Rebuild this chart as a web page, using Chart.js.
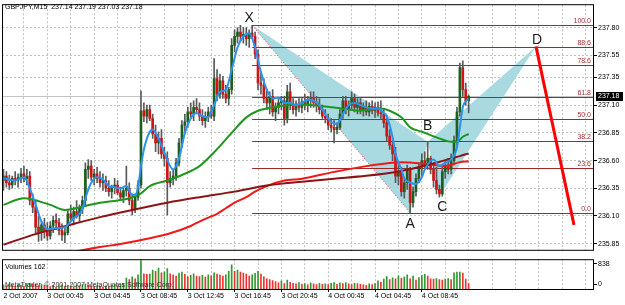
<!DOCTYPE html>
<html>
<head>
<meta charset="utf-8">
<script src="https://cdn.jsdelivr.net/npm/chart.js@4.4.0/dist/chart.umd.min.js"></script>
<style>
  html, body { margin: 0; padding: 0; background: #fff; }
  #wrap { position: relative; width: 625px; height: 305px; overflow: hidden; background: #fff; }
  canvas { position: absolute; left: 0; }
  #priceChart { top: 0; }
  #volChart { top: 254px; }
</style>
</head>
<body>
<div id="wrap">
  <canvas id="priceChart" width="625" height="256"></canvas>
  <canvas id="volChart" width="625" height="51"></canvas>
</div>
<script>
// GBPJPY M15 bars
const opens = [236.42,236.46,236.40,236.38,236.44,236.42,236.45,236.48,236.44,236.46,
  236.24,236.18,236.00,235.95,236.02,235.96,235.92,236.01,236.06,236.04,
  235.97,235.93,235.95,236.12,236.08,236.14,236.10,236.17,236.24,236.52,
  236.55,236.45,236.48,236.44,236.40,236.42,236.35,236.32,236.36,236.38,
  236.31,236.27,236.33,236.35,236.24,236.16,236.27,236.38,237.05,237.00,
  237.06,236.98,236.84,236.76,236.80,236.66,236.62,236.40,236.44,236.46,
  236.58,236.76,236.92,236.95,237.04,237.02,237.08,237.06,237.00,236.96,
  237.00,237.04,237.00,237.34,237.20,237.32,237.20,237.16,237.24,237.64,
  237.72,237.76,237.72,237.74,237.70,237.75,237.72,237.56,237.30,237.28,
  237.16,237.12,237.18,237.04,237.08,237.12,237.14,236.98,237.22,237.10,
  237.06,237.10,237.08,237.13,237.10,237.14,237.16,237.12,237.10,237.06,
  237.00,236.98,236.92,236.90,236.88,236.90,237.02,237.14,237.06,237.10,
  237.16,237.08,237.12,237.06,237.08,237.04,237.09,237.05,237.08,237.03,
  237.02,236.94,236.82,236.74,236.66,236.46,236.50,236.32,236.40,236.52,
  236.22,236.32,236.44,236.54,236.60,236.56,236.62,236.52,236.42,236.34,
  236.30,236.50,236.56,236.52,236.60,236.78,237.04,237.44,237.24,237.14];
const highs = [236.52,236.50,236.47,236.46,236.50,236.48,236.53,236.55,236.52,236.50,
  236.30,236.24,236.10,236.05,236.08,236.04,236.05,236.10,236.12,236.08,
  236.03,236.00,236.16,236.20,236.18,236.24,236.20,236.28,236.58,236.61,
  236.60,236.52,236.54,236.50,236.48,236.46,236.42,236.38,236.44,236.42,
  236.36,236.35,236.55,236.40,236.30,236.30,236.42,237.23,237.12,237.10,
  237.10,237.02,236.92,236.86,236.88,236.72,236.68,236.50,236.52,236.62,
  236.80,236.96,237.02,237.08,237.12,237.14,237.16,237.12,237.06,237.04,
  237.08,237.10,237.52,237.42,237.38,237.36,237.28,237.26,237.70,237.78,
  237.80,237.82,237.80,237.80,237.78,237.82,237.76,237.60,237.40,237.34,
  237.24,237.22,237.24,237.12,237.16,237.18,237.18,237.28,237.30,237.16,
  237.14,237.16,237.16,237.20,237.18,237.22,237.22,237.18,237.16,237.10,
  237.06,237.02,236.98,236.96,236.94,237.06,237.18,237.18,237.14,237.22,
  237.20,237.16,237.16,237.12,237.14,237.12,237.14,237.12,237.13,237.14,
  237.06,236.98,236.88,236.80,236.72,236.58,236.54,236.44,236.56,236.54,
  236.36,236.48,236.58,236.66,236.68,236.77,236.64,236.58,236.54,236.38,
  236.54,236.60,236.62,236.66,236.82,237.08,237.48,237.50,237.30,237.19];
const lows = [236.33,236.36,236.34,236.35,236.38,236.36,236.40,236.41,236.38,236.20,
  236.13,235.95,235.87,235.88,235.90,235.88,235.89,235.95,235.98,235.93,
  235.88,235.86,235.93,236.05,236.02,236.08,236.05,236.12,236.20,236.44,
  236.42,236.38,236.40,236.36,236.33,236.32,236.28,236.26,236.30,236.29,
  236.24,236.22,236.28,236.20,236.11,236.13,236.24,236.35,236.95,236.94,
  236.96,236.80,236.68,236.66,236.62,236.55,236.11,236.36,236.38,236.42,
  236.55,236.72,236.86,236.90,236.98,236.96,237.02,236.96,236.92,236.90,
  236.95,236.98,236.96,237.14,237.16,237.16,237.12,237.10,237.20,237.58,
  237.66,237.68,237.66,237.64,237.62,237.70,237.52,237.24,237.20,237.12,
  237.06,237.02,237.00,236.96,237.02,237.06,236.92,236.94,237.06,237.02,
  237.00,237.04,237.03,237.06,237.04,237.08,237.08,237.04,237.02,236.98,
  236.94,236.88,236.86,236.76,236.84,236.88,236.98,237.02,237.00,237.06,
  237.04,237.02,237.02,237.00,237.01,237.00,237.02,236.99,237.00,236.98,
  236.90,236.78,236.70,236.60,236.40,236.38,236.28,236.26,236.34,236.13,
  236.18,236.28,236.40,236.46,236.52,236.52,236.48,236.36,236.30,236.27,
  236.28,236.44,236.48,236.48,236.56,236.74,237.00,237.18,237.10,237.03];
const closes = [236.46,236.40,236.38,236.44,236.42,236.45,236.48,236.44,236.46,236.24,
  236.18,236.00,235.95,236.02,235.96,235.92,236.01,236.06,236.04,235.97,
  235.93,235.95,236.12,236.08,236.14,236.10,236.17,236.24,236.52,236.55,
  236.45,236.48,236.44,236.40,236.42,236.35,236.32,236.36,236.38,236.31,
  236.27,236.33,236.35,236.24,236.16,236.27,236.38,237.05,237.00,237.06,
  236.98,236.84,236.76,236.80,236.66,236.62,236.40,236.44,236.46,236.58,
  236.76,236.92,236.95,237.04,237.02,237.08,237.06,237.00,236.96,237.00,
  237.04,237.00,237.34,237.20,237.32,237.20,237.16,237.24,237.64,237.72,
  237.76,237.72,237.74,237.70,237.75,237.72,237.56,237.30,237.28,237.16,
  237.12,237.18,237.04,237.08,237.12,237.14,236.98,237.22,237.10,237.06,
  237.10,237.08,237.13,237.10,237.14,237.16,237.12,237.10,237.06,237.00,
  236.98,236.92,236.90,236.88,236.90,237.02,237.14,237.06,237.10,237.16,
  237.08,237.12,237.06,237.08,237.04,237.09,237.05,237.08,237.03,237.02,
  236.94,236.82,236.74,236.66,236.46,236.50,236.32,236.40,236.52,236.22,
  236.32,236.44,236.54,236.60,236.56,236.62,236.52,236.42,236.34,236.30,
  236.50,236.56,236.52,236.60,236.78,237.04,237.44,237.24,237.14,237.18];
const volumes = [120,95,140,110,90,130,105,85,150,170,
  140,120,100,135,110,90,75,110,60,85,
  120,70,95,80,65,105,90,130,150,110,
  85,70,100,80,60,95,75,110,140,90,
  120,160,320,280,360,300,420,838,450,430,
  440,560,520,620,480,510,600,450,420,380,
  470,500,430,360,400,450,380,370,400,350,
  420,390,480,440,410,380,420,520,715,520,
  560,500,470,440,380,420,460,520,440,360,
  300,280,250,220,180,240,160,260,200,170,
  150,190,140,160,120,180,150,130,170,140,
  150,130,170,190,140,180,160,190,150,130,
  170,160,140,120,110,150,130,160,240,200,
  290,370,280,330,300,390,320,360,420,300,
  380,260,340,400,430,380,300,290,310,280,
  260,290,310,280,480,500,500,470,290,162];

// moving averages: [bar, price] points
const blueMA = [[0,236.44],[4,236.42],[7,236.45],[9,236.35],[11,236.20],[13,236.05],[15,235.98],[18,235.99],
  [21,236.00],[24,236.08],[27,236.16],[28,236.26],[30,236.40],[32,236.45],[34,236.43],[36,236.37],[38,236.36],
  [40,236.35],[42,236.37],[44,236.29],[45,236.29],[46,236.36],[47,236.55],[48,236.70],[50,236.86],[51,236.88],
  [53,236.80],[55,236.67],[58,236.52],[60,236.62],[62,236.85],[64,236.98],[66,237.03],[68,237.00],[70,236.99],
  [72,237.10],[74,237.22],[76,237.24],[78,237.42],[80,237.62],[82,237.72],[84,237.75],[86,237.62],[88,237.40],
  [90,237.24],[92,237.16],[94,237.17],[96,237.12],[98,237.12],[100,237.10],[102,237.12],[104,237.15],[106,237.14],
  [108,237.10],[110,237.02],[112,236.95],[114,236.93],[116,237.02],[118,237.10],[120,237.12],[122,237.10],
  [124,237.08],[126,237.07],[128,237.07],[130,237.03],[131,237.00],[133,236.81],[134,236.66],[136,236.52],
  [137,236.44],[139,236.40],[141,236.39],[143,236.45],[144,236.52],[147,236.61],[149,236.55],[151,236.58],
  [153,236.61],[155,236.72],[156,236.90],[157,237.08],[159,237.16]];
const greenMA = [[0,236.20],[7,236.26],[16,236.20],[21,236.155],[28,236.19],[33,236.22],[39,236.24],[43,236.26],
  [47,236.305],[50,236.37],[56,236.42],[61,236.47],[67,236.55],[72,236.675],[78,236.85],[83,236.99],[87,237.05],
  [92,237.08],[101,237.105],[113,237.08],[122,237.05],[129,237.07],[132,237.05],[136,236.99],[139,236.90],
  [143,236.86],[146,236.83],[150,236.79],[153,236.77],[155,236.77],[157,236.815],[159,236.84]];
const maroonMA = [[0,235.84],[10,235.93],[22,236.015],[33,236.09],[44,236.155],[56,236.22],[67,236.27],[79,236.32],
  [90,236.375],[102,236.41],[113,236.437],[124,236.463],[136,236.507],[145,236.56],[151,236.604],[156,236.64],[159,236.665]];
const redMA = [[0,235.645],[26,235.787],[33,235.82],[40,235.848],[50,235.90],[57,235.944],[64,236.01],[67,236.05],
  [70,236.085],[73,236.12],[76,236.17],[79,236.22],[83,236.27],[86,236.32],[90,236.37],[96,236.42],[102,236.437],
  [113,236.498],[124,236.55],[136,236.586],[145,236.568],[151,236.551],[156,236.586],[159,236.595]];

// harmonic pattern points and projection
const patternNames = ['X', 'A', 'B', 'C', 'D'];
const patternBars = [85, 139, 145, 149, 182];
const patternPrices = [237.82, 236.13, 236.77, 236.28, 237.63];
const targetBars = [182, 195];
const targetPrices = [237.63, 236.02];
const fibLevels = [0, 23.6, 38.2, 50, 61.8, 78.6, 88.6, 100];

// axes
const priceTicks = [235.85, 236.10, 236.35, 236.60, 236.85, 237.10, 237.35, 237.55, 237.80];
const timeLabels = ['2 Oct 2007', '3 Oct 00:45', '3 Oct 04:45', '3 Oct 08:45', '3 Oct 12:45',
  '3 Oct 16:45', '3 Oct 20:45', '4 Oct 00:45', '4 Oct 04:45', '4 Oct 08:45'];
const timeLabelBars = [0, 15, 31, 47, 63, 79, 95, 111, 127, 143];
const slotCount = 202;

Chart.defaults.font.family = '"Liberation Sans", Arial, sans-serif';
Chart.defaults.font.size = 7;
Chart.defaults.color = '#000';

const labels = Array.from({length: slotCount}, (_, i) => String(i));
const tickText = {};
timeLabelBars.forEach((b, k) => { tickText[b] = timeLabels[k]; });
const toSeries = pts => {
  const s = new Array(slotCount).fill(null);
  pts.forEach(([b, v]) => { s[b] = v; });
  return s;
};
const last = closes.length - 1;
const bull = '#1e5e1e', bear = '#d01414';
const gridCol = '#bcc4bc';

const wickData = highs.map((h, i) => [lows[i], h]);
const bodyData = opens.map((o, i) => [o, closes[i]]);
const bodyColors = opens.map((o, i) => closes[i] >= o ? bull : bear);

function maLine(pts, color, order) {
  return {
    type: 'line', data: toSeries(pts), borderColor: color, borderWidth: 2,
    pointRadius: 0, spanGaps: true, cubicInterpolationMode: 'monotone', order: order
  };
}

const overlay = {
  id: 'overlay',
  beforeDatasetsDraw(chart) {
    const {ctx, chartArea: a, scales: {x, y}} = chart;
    const pt = k => [x.getPixelForValue(patternBars[k]), y.getPixelForValue(patternPrices[k])];
    ctx.save();
    ctx.beginPath();
    ctx.rect(a.left, a.top, a.right - a.left, a.bottom - a.top);
    ctx.clip();
    // bid line
    ctx.strokeStyle = '#c4c4c4';
    ctx.lineWidth = 1;
    const by = Math.round(y.getPixelForValue(closes[last])) + 0.5;
    ctx.beginPath(); ctx.moveTo(a.left, by); ctx.lineTo(a.right, by); ctx.stroke();
    // triangles XAB and BCD
    ctx.fillStyle = '#a9d9e1';
    [[0, 1, 2], [2, 3, 4]].forEach(tri => {
      ctx.beginPath();
      tri.forEach((k, j) => { const p = pt(k); if (j) ctx.lineTo(p[0], p[1]); else ctx.moveTo(p[0], p[1]); });
      ctx.closePath();
      ctx.fill();
    });
    // X-A dotted
    ctx.strokeStyle = '#ff3030';
    ctx.setLineDash([1, 2]);
    ctx.beginPath(); ctx.moveTo(...pt(0)); ctx.lineTo(...pt(1)); ctx.stroke();
    ctx.setLineDash([]);
    // fibo levels from X to A
    const x0 = x.getPixelForValue(patternBars[0]);
    ctx.font = '7px "Liberation Sans", Arial, sans-serif';
    ctx.textAlign = 'right';
    ctx.textBaseline = 'bottom';
    fibLevels.forEach(lv => {
      const p = patternPrices[1] + (patternPrices[0] - patternPrices[1]) * lv / 100;
      const fy = Math.round(y.getPixelForValue(p)) + 0.5;
      ctx.strokeStyle = '#a02828';
      ctx.beginPath(); ctx.moveTo(x0, fy); ctx.lineTo(a.right, fy); ctx.stroke();
      ctx.fillStyle = '#a03030';
      ctx.fillText(lv.toFixed(1), a.right - 2, fy - 1);
    });
    ctx.restore();
  },
  afterDatasetsDraw(chart) {
    const {ctx, chartArea: a, scales: {x, y}} = chart;
    ctx.save();
    ctx.beginPath();
    ctx.rect(a.left, a.top, a.right - a.left, a.bottom - a.top);
    ctx.clip();
    // projection from D
    ctx.strokeStyle = '#ff0000';
    ctx.lineWidth = 3;
    ctx.beginPath();
    ctx.moveTo(x.getPixelForValue(targetBars[0]), y.getPixelForValue(targetPrices[0]));
    ctx.lineTo(x.getPixelForValue(targetBars[1]), y.getPixelForValue(targetPrices[1]));
    ctx.stroke();
    // point labels
    const offs = [[-3, -7], [0, 11], [0, -16], [3, 11], [1, -6]];
    ctx.font = '14px "Liberation Sans", Arial, sans-serif';
    ctx.fillStyle = '#1a1a1a';
    ctx.textAlign = 'center';
    ctx.textBaseline = 'middle';
    patternNames.forEach((n, k) => {
      ctx.fillText(n, x.getPixelForValue(patternBars[k]) + offs[k][0], y.getPixelForValue(patternPrices[k]) + offs[k][1]);
    });
    ctx.restore();
    // header
    ctx.save();
    ctx.font = '7px "Liberation Sans", Arial, sans-serif';
    ctx.fillStyle = '#000';
    ctx.textAlign = 'left';
    ctx.textBaseline = 'middle';
    ctx.fillText('GBPJPY,M15  ' + [opens[last], highs[last], lows[last], closes[last]].map(v => v.toFixed(2)).join(' '), 5, 7);
    // frame
    ctx.strokeStyle = '#000';
    ctx.lineWidth = 1;
    ctx.strokeRect(a.left + 0.5, a.top - 0.5, a.right - a.left, a.bottom - a.top);
    // bid box
    const by = Math.round(y.getPixelForValue(closes[last]));
    ctx.fillStyle = '#000';
    ctx.fillRect(a.right + 3, by - 4, 27, 9);
    ctx.fillStyle = '#fff';
    ctx.fillText(closes[last].toFixed(2), a.right + 5, by + 0.5);
    ctx.restore();
  }
};

new Chart(document.getElementById('priceChart'), {
  type: 'bar',
  data: {
    labels: labels,
    datasets: [
      maLine(blueMA, '#2a92f0', 0),
      maLine(greenMA, '#1f961f', 1),
      maLine(maroonMA, '#8c1414', 2),
      maLine(redMA, '#f01818', 3),
      { data: bodyData, backgroundColor: bodyColors, barThickness: 2, grouped: false, minBarLength: 1, order: 4 },
      { data: wickData, backgroundColor: '#5a5a5a', barThickness: 1, grouped: false, order: 5 }
    ]
  },
  options: {
    responsive: false, animation: false, devicePixelRatio: 1,
    layout: { padding: { left: 2, top: 2, right: 0, bottom: 2 } },
    plugins: { legend: { display: false }, tooltip: { enabled: false } },
    scales: {
      x: {
        offset: true,
        ticks: { display: false },
        grid: { offset: false, drawTicks: false, color: c => c.index % 8 === 7 ? gridCol : 'rgba(0,0,0,0)' },
        border: { display: false, dash: [2, 2] },
        afterFit: s => { s.height = 0; }
      },
      y: {
        position: 'right', min: 235.786, max: 238.002,
        afterBuildTicks: s => { s.ticks = priceTicks.map(v => ({ value: v })); },
        afterFit: s => { s.width = 32; },
        ticks: { callback: v => Number(v).toFixed(2), padding: 1, color: '#000' },
        grid: { color: gridCol, tickColor: '#000', tickLength: 4 },
        border: { display: false, dash: [2, 2] }
      }
    }
  },
  plugins: [overlay]
});

// volumes panel
const volColors = volumes.map((v, i) => (i === 0 || v >= volumes[i - 1]) ? '#2f9a2f' : '#f03232');
const volOverlay = {
  id: 'volOverlay',
  afterDatasetsDraw(chart) {
    const {ctx, chartArea: a} = chart;
    ctx.save();
    ctx.font = '7px "Liberation Sans", Arial, sans-serif';
    ctx.textAlign = 'left';
    ctx.textBaseline = 'middle';
    ctx.fillStyle = '#000';
    ctx.fillText('Volumes ' + volumes[last], 5, a.top + 7.5);
    ctx.fillStyle = '#303030';
    ctx.fillText('MetaTrader, \u00a9 2001-2007 MetaQuotes Software Corp.', 5, a.bottom - 4);
    ctx.strokeStyle = '#000';
    ctx.lineWidth = 1;
    ctx.strokeRect(a.left + 0.5, a.top + 0.5, a.right - a.left, a.bottom - a.top);
    ctx.restore();
  }
};

new Chart(document.getElementById('volChart'), {
  type: 'bar',
  data: {
    labels: labels,
    datasets: [{ data: volumes, backgroundColor: volColors, barThickness: 1, yAxisID: 'y' }]
  },
  options: {
    responsive: false, animation: false, devicePixelRatio: 1,
    layout: { padding: { left: 2, top: 2, right: 0, bottom: 0 } },
    plugins: { legend: { display: false }, tooltip: { enabled: false } },
    scales: {
      x: {
        offset: true,
        ticks: { autoSkip: false, maxRotation: 0, minRotation: 0, align: 'start', padding: 0,
                 callback: (v, i) => tickText[i] || '' },
        grid: { offset: false, tickLength: 3,
                color: c => c.index % 8 === 7 ? gridCol : 'rgba(0,0,0,0)',
                tickColor: c => (tickText[c.index] && c.index > 0) ? '#000' : 'rgba(0,0,0,0)' },
        border: { display: false, dash: [2, 2] },
        afterFit: s => { s.height = 16; }
      },
      y: { display: false, min: 0, max: 880 },
      yv: {
        position: 'right', min: -182, max: 1020,
        afterBuildTicks: s => { s.ticks = [{ value: 0 }, { value: 838 }]; },
        afterFit: s => { s.width = 32; },
        ticks: { padding: 1, color: '#000' },
        grid: { drawOnChartArea: false, tickColor: '#000', tickLength: 4 },
        border: { display: false }
      }
    }
  },
  plugins: [volOverlay]
});
</script>
</body>
</html>
